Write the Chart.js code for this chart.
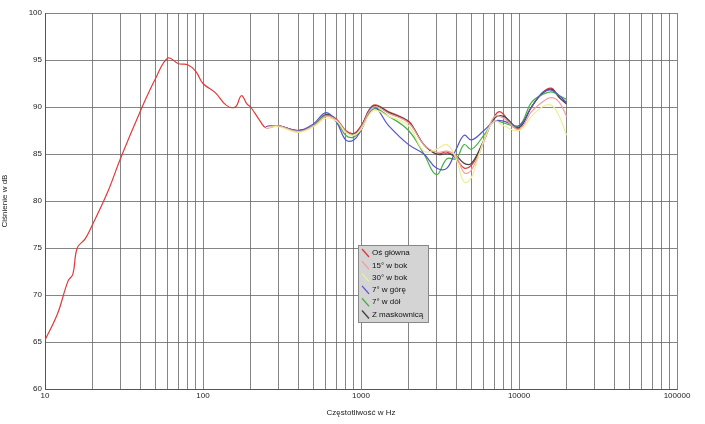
<!DOCTYPE html>
<html><head><meta charset="utf-8">
<script src="https://cdn.jsdelivr.net/npm/chart.js@4"></script>
<style>body{margin:0;background:#fff}#w{width:705px;height:424px}</style></head>
<body><div id="w"><canvas id="c"></canvas></div>
<script>
const seriesNames=["Oś główna","15° w bok","30° w bok","7° w górę","7° w dół","Z maskownicą"];
const seriesColors=["#e03a3a","#f0a0a0","#eeee99","#5555c8","#44b044","#444444"];
const freqMain=[10,12,14,15,16,18,20,25,30,40,50,60,70,80,90,100,120,140,160,175,190,200,230,250,300,400,500,600,700,800,900,1000,1200,1500,2000,2200,2500,3000,3500,4000,4500,5000,5500,6000,7000,7500,8000,9000,10000,12000,14000,16000,18000,20000];
const osGlowna=[65.2,68,71.5,72.2,75,76,77.5,81,84.5,89.5,93,95.2,94.6,94.5,93.8,92.5,91.5,90.2,90,91.2,90.3,90,88.5,87.8,88,87.5,88,89.2,88.7,87.5,87.2,88,90.2,89.5,88.5,87.5,86,85,85.2,84.5,83.5,83.8,85,86.5,89,89.5,89.2,88,87.8,90,91.5,92,91,90.5];
const freqOff=[250,300,400,500,600,700,800,900,1000,1200,1500,2000,2500,3000,3500,4000,4500,5000,6000,7000,8000,10000,12000,14000,16000,18000,20000];
const bok15=[87.8,88,87.4,88,89,88.6,87.4,87,87.8,90,89.3,88.3,86,85.2,85.3,84.8,83,83.3,86.3,89,88.8,87.6,89.5,90.5,91,90.5,89];
const bok30=[87.8,87.9,87.3,87.9,88.8,88.5,87.3,87,87.6,89.6,89,88,85.3,85.5,86,84.5,82,82.5,86.5,88.5,88,87.5,89,90,90.2,89,87];
const gora7=[87.9,88,87.5,88.2,89.4,88.4,86.5,86.5,87.5,90,88,86,85,83.5,83.5,85.5,87,86.5,87.5,88.5,88.5,88,90,91.5,91.8,91.2,90.5];
const dol7=[87.8,88,87.4,88,89.1,88.5,87,86.8,87.6,89.8,89,87.5,85,82.8,84.5,84.5,86,85.5,87,88.5,88.3,88,90.5,91.3,91.6,91.2,90.8];
const maskownica=[87.9,88,87.5,88,89.2,88.6,87.4,87.1,87.9,90.1,89.4,88.4,86,85,85,84.8,84,84,86.5,88.8,89,87.8,90,91.4,91.9,91,90.3];
const yTicks=[60,65,70,75,80,85,90,95,100];
const pts=(xs,ys)=>xs.map((x,i)=>({x,y:ys[i]}));
const allData=[pts(freqMain,osGlowna),pts(freqOff,bok15),pts(freqOff,bok30),pts(freqOff,gora7),pts(freqOff,dol7),pts(freqOff,maskownica)];
const order=[2,1,3,4,5,0];
const datasets=order.map(i=>({label:seriesNames[i],data:allData[i],borderColor:seriesColors[i],borderWidth:1.2,pointRadius:0,tension:0.4,fill:false,idx:i}));
const legendPlugin={id:'lg',afterDraw(ch){const c=ch.ctx;const x=358,y=245,w=70,h=77;c.save();c.fillStyle='#d4d4d4';c.fillRect(x,y,w,h);c.strokeStyle='#888';c.lineWidth=1;c.strokeRect(x+0.5,y+0.5,w,h);
c.font='8px "Liberation Sans", Arial';c.textBaseline='middle';
seriesNames.forEach((n,i)=>{const yy=y+8+i*12.3;c.strokeStyle=seriesColors[i];c.lineWidth=1.3;c.beginPath();c.moveTo(x+4,yy-4);c.lineTo(x+11,yy+4);c.stroke();c.fillStyle='#111';c.fillText(n,x+14,yy);});c.restore();}};
new Chart(document.getElementById('c'),{type:'line',data:{datasets},plugins:[legendPlugin],
options:{responsive:true,maintainAspectRatio:false,animation:false,layout:{padding:{top:13,right:28,left:0,bottom:0}},
plugins:{legend:{display:false},tooltip:{enabled:false}},
scales:{x:{type:'logarithmic',min:10,max:100000,
afterBuildTicks(s){const t=[];for(let d=10;d<100000;d*=10)for(let k=1;k<10;k++)t.push({value:d*k});t.push({value:100000});s.ticks=t;},
ticks:{autoSkip:false,maxRotation:0,font:{size:8,family:'Liberation Sans'},color:'#222',padding:2,callback:v=>[10,100,1000,10000,100000].includes(v)?String(v):''},
grid:{color:'#666',lineWidth:0.8,drawTicks:false},border:{color:'#555'},
title:{display:true,text:'Częstotliwość w Hz',font:{size:8,family:'Liberation Sans'},color:'#222',padding:{top:0,bottom:6}},
afterFit(s){s.height=35;}},
y:{min:60,max:100,afterBuildTicks(s){s.ticks=yTicks.map(v=>({value:v}));},
ticks:{font:{size:8,family:'Liberation Sans'},color:'#222',padding:3},
grid:{color:'#666',lineWidth:0.8,drawTicks:false},border:{color:'#555'},
title:{display:true,text:'Ciśnienie w dB',font:{size:8,family:'Liberation Sans'},color:'#222',padding:{top:0,bottom:2}},
afterFit(s){s.width=45;}}}}});
</script></body></html>
